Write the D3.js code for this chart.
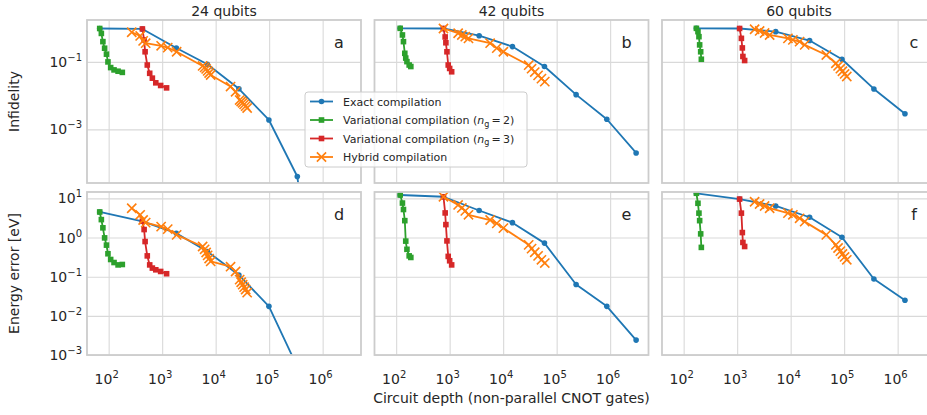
<!DOCTYPE html>
<html>
<head>
<meta charset="utf-8">
<script src="https://cdn.jsdelivr.net/npm/d3@7"></script>
<style>
  body { margin: 0; background: #fff; }
  text { font-family: "DejaVu Sans", sans-serif; fill: #262626; }
</style>
</head>
<body>
<svg id="chart" width="927" height="415"></svg>
<script>
// ---- data ----
// 24 qubits
const exactDepth24 = [68, 427, 1840, 7000, 27200, 99000, 336000, 1200000];
const exactInf24 = [0.98, 0.95, 0.26, 0.085, 0.016, 0.0019, 4e-5, 1e-11];
const exactErr24 = [4.5, 2.6, 1.29, 0.44, 0.11, 0.0175, 5e-4, 1e-9];
const greenDepth24 = [68, 73, 78, 84, 91, 97, 109, 126, 150, 180];
const greenInf24 = [0.98, 0.70, 0.40, 0.255, 0.17, 0.10, 0.068, 0.058, 0.053, 0.049];
const greenErr24 = [4.5, 2.87, 1.77, 0.98, 0.64, 0.385, 0.275, 0.23, 0.20, 0.205];
const redDepth24 = [427, 460, 480, 527, 585, 656, 760, 937, 1210];
const redInf24 = [0.95, 0.45, 0.20, 0.081, 0.046, 0.033, 0.024, 0.020, 0.017];
const redErr24 = [2.6, 1.6, 0.79, 0.34, 0.20, 0.166, 0.15, 0.136, 0.119];
const hybridDepth24 = [270, 388, 441, 492, 957, 1270, 1866, 5710, 6220, 6640, 7080, 7550, 8070, 19000, 23600, 28100, 30000, 32000, 34100, 36400, 38800];
const hybridInf24 = [0.76, 0.59, 0.42, 0.36, 0.30, 0.265, 0.20, 0.076, 0.069, 0.062, 0.054, 0.047, 0.041, 0.0186, 0.013, 0.0074, 0.0067, 0.0061, 0.0055, 0.0049, 0.0043];
const hybridErr24 = [5.6, 3.8, 2.8, 2.4, 1.9, 1.64, 1.17, 0.59, 0.50, 0.415, 0.35, 0.29, 0.245, 0.18, 0.136, 0.084, 0.072, 0.0625, 0.054, 0.047, 0.039];

// 42 qubits
const exactDepth42 = [119, 766, 3560, 14900, 59200, 231000, 867000, 3060000];
const exactInf42 = [0.99, 0.98, 0.60, 0.285, 0.073, 0.0107, 0.0020, 2.0e-4];
const exactErr42 = [12.2, 11.0, 4.9, 2.4, 0.72, 0.063, 0.0175, 0.0024];
const greenDepth42 = [119, 131, 137, 145, 151, 159, 175, 188];
const greenInf42 = [0.99, 0.63, 0.40, 0.18, 0.13, 0.102, 0.081, 0.073];
const greenErr42 = [12.2, 7.6, 5.2, 2.7, 0.81, 0.50, 0.34, 0.31];
const redDepth42 = [766, 824, 850, 890, 940, 1000, 1090];
const redInf42 = [0.98, 0.55, 0.37, 0.20, 0.081, 0.064, 0.051];
const redErr42 = [11.0, 4.25, 2.14, 0.82, 0.33, 0.255, 0.20];
const hybridDepth42 = [766, 1440, 1690, 1960, 2250, 5710, 7600, 10100, 30000, 34000, 39000, 45000, 52000, 60000];
const hybridInf42 = [0.98, 0.71, 0.63, 0.56, 0.50, 0.36, 0.256, 0.20, 0.080, 0.063, 0.050, 0.040, 0.032, 0.026];
const hybridErr42 = [11.0, 6.8, 5.7, 4.8, 3.8, 2.8, 2.3, 1.74, 0.65, 0.52, 0.42, 0.34, 0.27, 0.223];

// 60 qubits
const exactDepth60 = [173, 1110, 5250, 22600, 91000, 360000, 1370000];
const exactInf60 = [0.99, 0.98, 0.79, 0.43, 0.12, 0.0158, 0.0029];
const exactErr60 = [13.5, 9.6, 6.4, 3.3, 1.02, 0.087, 0.025];
const greenDepth60 = [173, 185, 193, 199, 208, 214];
const greenInf60 = [0.99, 0.79, 0.56, 0.32, 0.20, 0.12];
const greenErr60 = [13.5, 7.5, 4.2, 2.7, 1.24, 0.56];
const redDepth60 = [1110, 1200, 1250, 1280, 1380];
const redInf60 = [0.98, 0.50, 0.26, 0.145, 0.11];
const redErr60 = [9.6, 4.2, 1.34, 0.75, 0.59];
const hybridDepth60 = [2120, 2630, 3260, 4050, 8900, 11000, 14700, 18300, 46400, 70000, 77000, 85000, 93000, 102000, 112000];
const hybridInf60 = [0.93, 0.83, 0.72, 0.63, 0.50, 0.45, 0.40, 0.32, 0.16, 0.091, 0.076, 0.063, 0.053, 0.044, 0.037];
const hybridErr60 = [8.2, 7.2, 6.4, 5.6, 4.2, 3.8, 3.1, 2.55, 1.17, 0.65, 0.54, 0.45, 0.38, 0.32, 0.27];

const titles = ["24 qubits", "42 qubits", "60 qubits"];
const letters = [["a", "b", "c"], ["d", "e", "f"]];
const xTicks = [1e2, 1e3, 1e4, 1e5, 1e6];
const infTicks = [1e-1, 1e-3];
const errTicks = [1e1, 1e0, 1e-1, 1e-2, 1e-3];
const seriesNames = ["Exact compilation", "Variational compilation (n_g=2)", "Variational compilation (n_g=3)", "Hybrid compilation"];
const colors = ["#1f77b4", "#2ca02c", "#d62728", "#ff7f0e"];

const depths = [
  [exactDepth24, greenDepth24, redDepth24, hybridDepth24],
  [exactDepth42, greenDepth42, redDepth42, hybridDepth42],
  [exactDepth60, greenDepth60, redDepth60, hybridDepth60]
];
const infs = [
  [exactInf24, greenInf24, redInf24, hybridInf24],
  [exactInf42, greenInf42, redInf42, hybridInf42],
  [exactInf60, greenInf60, redInf60, hybridInf60]
];
const errs = [
  [exactErr24, greenErr24, redErr24, hybridErr24],
  [exactErr42, greenErr42, redErr42, hybridErr42],
  [exactErr60, greenErr60, redErr60, hybridErr60]
];

// ---- layout ----
const colLeft = [87, 374.5, 662], panelW = 274;
const rowTop = [20, 192], panelH = 163;
const gridColor = "#d9d9d9", frameColor = "#cccccc";

const svg = d3.select("#chart");

const x = d3.scaleLog().domain([Math.pow(10, 1.595), Math.pow(10, 6.717)]).range([0, panelW]);
const yInf = d3.scaleLog().domain([Math.pow(10, -4.59), Math.pow(10, 0.243)]).range([panelH, 0]);
const yErr = d3.scaleLog().domain([1e-3, Math.pow(10, 1.163)]).range([panelH, 0]);

// write 10^k with a raised exponent
function powLabel(textSel, v) {
  const e = Math.round(Math.log10(v));
  textSel.text(null);
  textSel.append("tspan").text("10");
  textSel.append("tspan").attr("font-size", 10).attr("dy", -6)
    .text(e < 0 ? "\u2212" + (-e) : String(e));
}

function drawMarker(g, kind, px, py, color) {
  if (kind === 0) {
    g.append("circle").attr("cx", px).attr("cy", py).attr("r", 2.8).attr("fill", color);
  } else if (kind === 3) {
    const s = 4.6;
    g.append("path")
      .attr("d", `M${px - s},${py - s}L${px + s},${py + s}M${px + s},${py - s}L${px - s},${py + s}`)
      .attr("stroke", color).attr("stroke-width", 1.6).attr("fill", "none");
  } else {
    g.append("rect").attr("x", px - 2.8).attr("y", py - 2.8).attr("width", 5.6).attr("height", 5.6).attr("fill", color);
  }
}

for (let row = 0; row < 2; row++) {
  for (let col = 0; col < 3; col++) {
    const y = row === 0 ? yInf : yErr;
    const yTicks = row === 0 ? infTicks : errTicks;
    const g = svg.append("g").attr("transform", `translate(${colLeft[col]},${rowTop[row]})`);
    const cid = `clip-${row}-${col}`;
    g.append("clipPath").attr("id", cid).append("rect").attr("width", panelW).attr("height", panelH);

    // grid
    const gx = g.append("g").attr("transform", `translate(0,${panelH})`)
      .call(d3.axisBottom(x).tickValues(xTicks).tickSize(-panelH).tickFormat(""));
    const gy = g.append("g")
      .call(d3.axisLeft(y).tickValues(yTicks).tickSize(-panelW).tickFormat(""));
    [gx, gy].forEach(a => {
      a.select(".domain").remove();
      a.selectAll(".tick line").attr("stroke", gridColor).attr("stroke-width", 1.1);
    });

    // series
    const plot = g.append("g").attr("clip-path", `url(#${cid})`);
    for (let s = 0; s < 4; s++) {
      const vals = row === 0 ? infs[col][s] : errs[col][s];
      const pts = depths[col][s].map((d, i) => [d, vals[i]]);
      plot.append("path").datum(pts)
        .attr("d", d3.line().x(d => x(d[0])).y(d => y(d[1])))
        .attr("fill", "none").attr("stroke", colors[s]).attr("stroke-width", 1.8)
        .attr("stroke-linejoin", "round");
      pts.forEach(d => drawMarker(plot, s, x(d[0]), y(d[1]), colors[s]));
    }

    // frame
    g.append("rect").attr("width", panelW).attr("height", panelH)
      .attr("fill", "none").attr("stroke", frameColor).attr("stroke-width", 1.8);

    // panel letter
    g.append("text").attr("x", panelW - 22).attr("y", 28).attr("text-anchor", "middle")
      .attr("font-size", 16).text(letters[row][col]);

    if (row === 0) {
      g.append("text").attr("x", panelW / 2).attr("y", -4.5).attr("text-anchor", "middle")
        .attr("font-size", 14).text(titles[col]);
    }
    if (row === 1) {
      xTicks.forEach(t => {
        g.append("text").attr("x", x(t) - 2).attr("y", panelH + 29).attr("text-anchor", "middle")
          .attr("font-size", 14).call(powLabel, t);
      });
    }
    if (col === 0) {
      yTicks.forEach(t => {
        g.append("text").attr("x", -5).attr("y", y(t) + 5).attr("text-anchor", "end")
          .attr("font-size", 14).call(powLabel, t);
      });
    }
  }
}

// axis labels
svg.append("text").attr("transform", `translate(19,${rowTop[0] + panelH / 2}) rotate(-90)`)
  .attr("text-anchor", "middle").attr("font-size", 14).text("Infidelity");
svg.append("text").attr("transform", `translate(19,${rowTop[1] + panelH / 2}) rotate(-90)`)
  .attr("text-anchor", "middle").attr("font-size", 14).text("Energy error [eV]");
svg.append("text").attr("x", colLeft[1] + panelW / 2).attr("y", 403).attr("text-anchor", "middle")
  .attr("font-size", 14).text("Circuit depth (non-parallel CNOT gates)");

// legend
const lg = svg.append("g").attr("transform", "translate(305,92)");
lg.append("rect").attr("width", 222).attr("height", 75).attr("rx", 3)
  .attr("fill", "#fff").attr("fill-opacity", 0.8).attr("stroke", frameColor).attr("stroke-width", 1);
seriesNames.forEach((name, i) => {
  const yy = 9.5 + i * 18.5;
  lg.append("line").attr("x1", 5).attr("x2", 28).attr("y1", yy).attr("y2", yy)
    .attr("stroke", colors[i]).attr("stroke-width", 1.8);
  drawMarker(lg, i, 16.5, yy, colors[i]);
  const t = lg.append("text").attr("x", 38).attr("y", yy + 4).attr("font-size", 11);
  const m = name.match(/^(.*)\(n_g=(\d)\)$/);
  if (m) {
    t.append("tspan").text(m[1] + "(");
    t.append("tspan").attr("font-style", "italic").text("n");
    t.append("tspan").attr("font-size", 8).attr("dy", 2.5).text("g");
    t.append("tspan").attr("dy", -2.5).text("\u2009=\u2009" + m[2] + ")");
  } else {
    t.text(name);
  }
});
</script>
</body>
</html>
